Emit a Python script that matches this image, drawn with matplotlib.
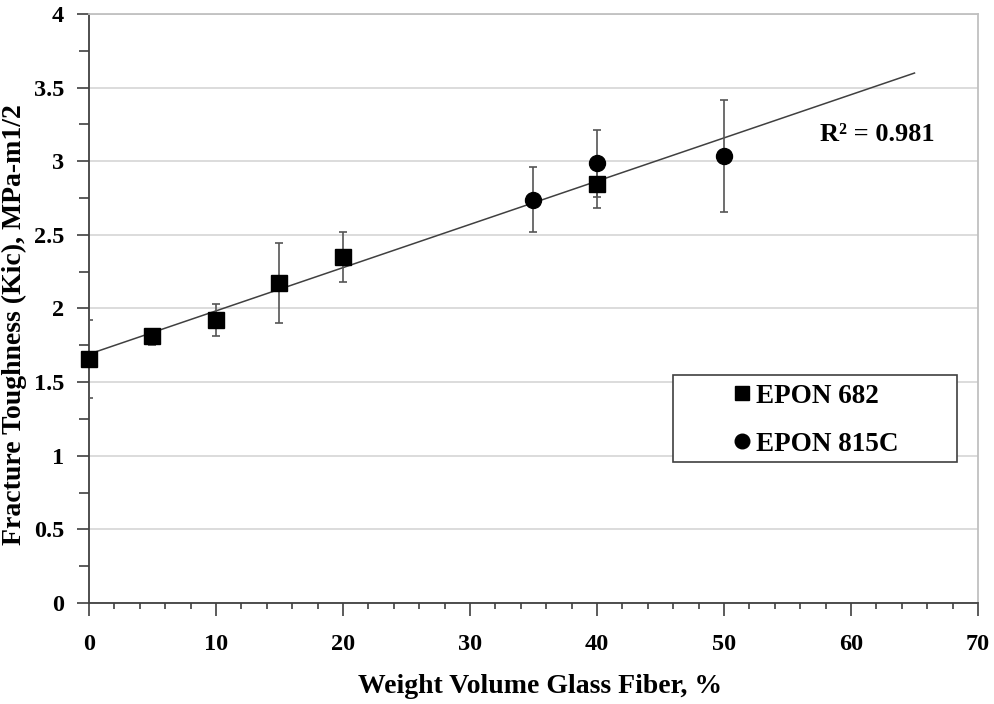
import numpy as np
import matplotlib
matplotlib.use("Agg")
import matplotlib.pyplot as plt
from matplotlib.ticker import MultipleLocator
from matplotlib.lines import Line2D
from matplotlib.patches import Rectangle

plt.rcParams['font.family'] = ['Liberation Serif', 'DejaVu Serif']
plt.rcParams['font.weight'] = 'bold'

# EPON 682 (squares)
x_682 = [0, 5, 10, 15, 20, 40]
y_682 = [1.66, 1.81, 1.925, 2.175, 2.35, 2.845]
err_lo_682 = [0.265, 0.06, 0.11, 0.275, 0.17, 0.16]
err_hi_682 = [0.265, 0.02, 0.105, 0.27, 0.17, 0.16]

# EPON 815C (circles)
x_815 = [35, 40, 50]
y_815 = [2.74, 2.985, 3.035]
err_815 = [0.22, 0.23, 0.38]

r2_text = "R² = 0.981"

fig = plt.figure(figsize=(9.95, 7.04), dpi=100)
ax = fig.add_axes([0.0894, 0.1435, 0.8935, 0.8366])

eb1 = ax.errorbar(x_682, y_682, yerr=[err_lo_682, err_hi_682], fmt='s', color='black',
                  ms=11, ecolor='#555555', elinewidth=1.2, capsize=3.2, capthick=1.2,
                  zorder=3)
eb1[0].set_clip_on(False)
eb2 = ax.errorbar(x_815, y_815, yerr=err_815, fmt='o', color='black',
                  ms=11.5, ecolor='#555555', elinewidth=1.2, capsize=3.2, capthick=1.2,
                  zorder=3)

# linear trendline over all points, forecast to 65
all_x = np.array(x_682 + x_815)
all_y = np.array(y_682 + y_815)
slope, icpt = np.polyfit(all_x, all_y, 1)
xt = np.array([0, 65])
ax.plot(xt, slope * xt + icpt, color='#404040', lw=1.1, zorder=2)

ax.text(62.1, 3.18, r2_text, fontsize=19, fontweight='bold', ha='center', va='center')

ax.set_xlim(0, 70)
ax.set_ylim(0, 4)
ax.xaxis.set_major_locator(MultipleLocator(10))
ax.xaxis.set_minor_locator(MultipleLocator(2))
ax.yaxis.set_minor_locator(MultipleLocator(0.25))
ax.set_yticks(np.arange(0, 4.01, 0.5))
ax.set_yticklabels(['0', '0.5', '1', '1.5', '2', '2.5', '3', '3.5', '4'])

ax.grid(axis='y', which='major', color='#d9d9d9', lw=1.3, zorder=0)
ax.set_axisbelow(True)

ax.tick_params(axis='both', which='major', direction='out', length=9, width=1.2,
               color='#404040', labelsize=17.5, pad=9)
ax.tick_params(axis='x', which='minor', direction='out', length=4, width=1.2, color='#404040')
ax.tick_params(axis='y', which='minor', direction='out', length=7, width=1.2, color='#404040')
ax.tick_params(axis='x', which='major', pad=13)

for side in ['left', 'bottom']:
    ax.spines[side].set_color('#404040')
    ax.spines[side].set_linewidth(1.3)
for side in ['top', 'right']:
    ax.spines[side].set_color('#c0c0c0')
    ax.spines[side].set_linewidth(1.3)

ax.set_xlabel('Weight Volume Glass Fiber, %', fontsize=20, fontweight='bold')
ax.set_ylabel('Fracture Toughness (Kic), MPa-m1/2', fontsize=20, fontweight='bold')
ax.xaxis.set_label_coords(0.507, -0.12)
ax.yaxis.set_label_coords(-0.07, 0.472)

# legend box (frame drawn separately so content stays centred)
ax.add_patch(Rectangle((0.657, 0.239), 0.319, 0.148, transform=ax.transAxes,
                       facecolor='white', edgecolor='#404040', lw=1.2, zorder=4))
handles = [Line2D([], [], marker='s', ls='none', color='black', ms=10),
           Line2D([], [], marker='o', ls='none', color='black', ms=10.5)]
leg = ax.legend(handles, ['EPON 682', 'EPON 815C'],
                loc='center', bbox_to_anchor=(0.657 + 0.319 / 2, 0.236 + 0.148 / 2),
                fontsize=19.5, frameon=False, handletextpad=0.15, handlelength=0.8,
                labelspacing=0.85, borderaxespad=0)
leg.set_zorder(5)

fig.savefig('out.png', dpi=100)
